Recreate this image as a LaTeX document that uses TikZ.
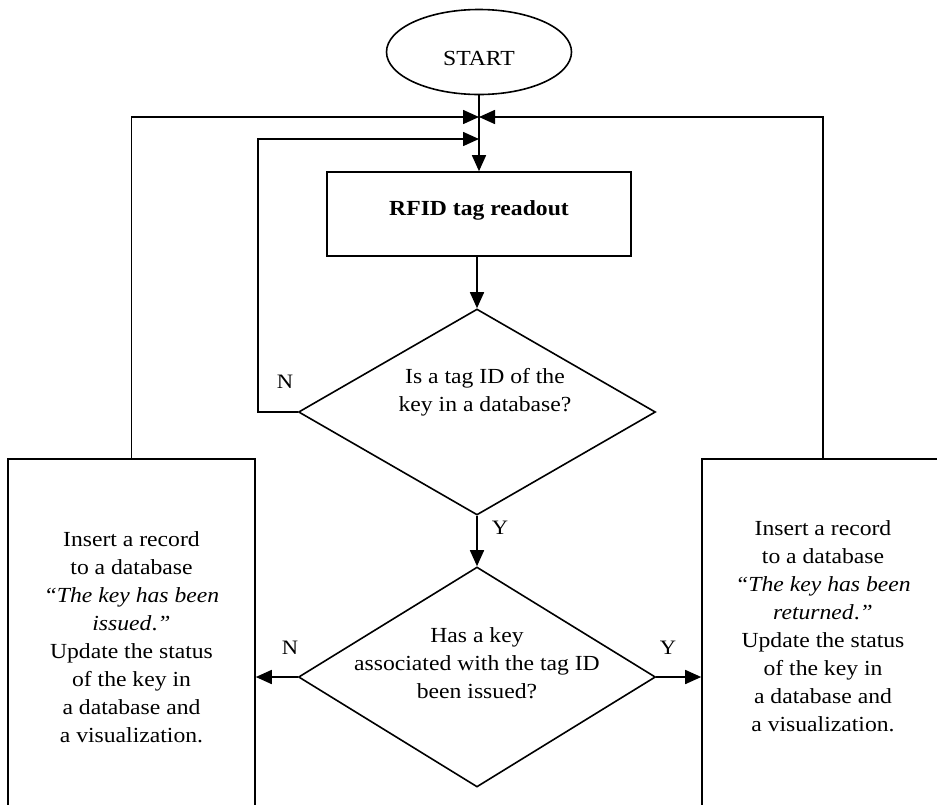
\documentclass[tikz,border=0pt]{standalone}
\usepackage{fontspec}
\setmainfont{Liberation Serif}[FakeStretch=1.1]
\usetikzlibrary{shapes.geometric,arrows.meta,calc}

\tikzset{
  flow/.style={line width=1.6pt},
  arr/.style={flow,-{Triangle[length=16pt,width=14pt]}},
  shapeline/.style={draw,line width=1.6pt,inner sep=0pt},
  procbox/.style={shapeline,rectangle},
  decision/.style={shapeline,diamond},
  txt/.style={align=center,font=\fontsize{21.5}{28}\selectfont,inner sep=0pt},
  lbl/.style={font=\fontsize{20.5}{24}\selectfont,inner sep=0pt}
}

\begin{document}
\begin{tikzpicture}[x=1pt,y=-1pt]
\useasboundingbox (0,0) rectangle (937,804);
\clip (0,0) rectangle (937,804);

% terminal and process
\node[shapeline,ellipse,minimum width=185pt,minimum height=85pt] (start) at (479,52) {};
\node[txt] (starttxt) at (479,58) {START};
\node[procbox,minimum width=304pt,minimum height=84pt] (rfid) at (479,214) {};
\node[txt] (rfidtxt) at (479,210) {\bfseries RFID tag readout};

% decisions
\node[decision,minimum width=357pt,minimum height=206pt] (q1) at (477,412) {};
\node[txt] (q1txt) at (485,392) {Is a tag ID of the\\key in a database?};
\node[decision,minimum width=357pt,minimum height=220pt] (q2) at (477,677) {};
\node[txt] (q2txt) at (477,663) {Has a key\\associated with the tag ID\\been issued?};

% result boxes (running past the lower and right edges)
\node[procbox,minimum width=247pt,minimum height=356pt] (lbox) at (131.5,637) {};
\node[txt] (ltxt) at (131.5,637) {Insert a record\\to a database\\\textit{“The key has been}\\\textit{issued}.\textit{”}\\Update the status\\of the key in\\a database and\\a visualization.};
\node[procbox,minimum width=242pt,minimum height=356pt] (rbox) at (823,637) {};
\node[txt] (rtxt) at (823,626) {Insert a record\\to a database\\\textit{“The key has been}\\\textit{returned}.\textit{”}\\Update the status\\of the key in\\a database and\\a visualization.};

% junction points on the main line
\coordinate (m1) at (479,117);
\coordinate (m2) at (479,139);
\coordinate (nloop) at (258,412);

% connectors
\draw[arr] (start) -- (rfid);
\draw[arr] (lbox.north) |- (m1);
\draw[arr] (rbox.north) |- (m1);
\draw[arr] (q1.west) -- (nloop) |- (m2);
\draw[arr] (rfid.south -| q1.north) -- (q1.north);
\draw[arr] (q1.south) -- (q2.north);
\draw[arr] (q2.west) -- (q2.west -| lbox.east);
\draw[arr] (q2.east) -- (q2.east -| rbox.west);

% branch labels
\node[lbl] (n1) at (285,382) {N};
\node[lbl] (y1) at (500,528) {Y};
\node[lbl] (n2) at (290,648) {N};
\node[lbl] (y2) at (668,648) {Y};
\end{tikzpicture}
\end{document}
